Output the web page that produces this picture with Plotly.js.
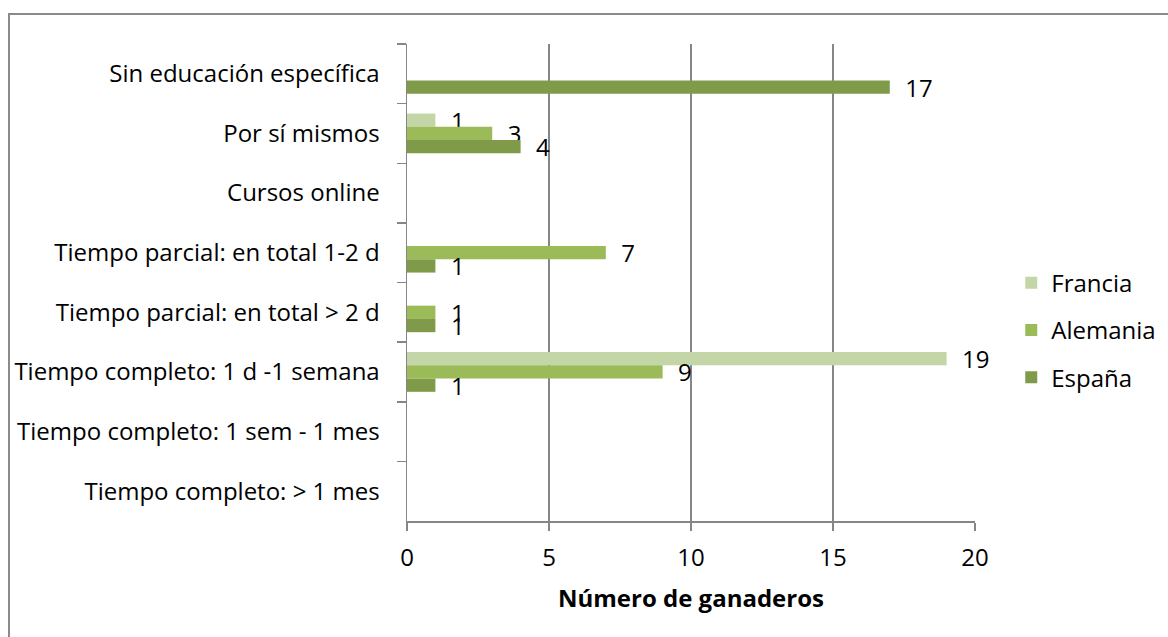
<!DOCTYPE html>
<html>
<head>
<meta charset="utf-8">
<script src="https://cdn.plot.ly/plotly-3.0.1.min.js"></script>
<style>
  html, body { margin: 0; padding: 0; background: #ffffff; }
  #chart { width: 1168px; height: 637px; }
</style>
</head>
<body>
<div id="chart"></div>
<script>
const categories = [
  "Sin educación específica",
  "Por sí mismos",
  "Cursos online",
  "Tiempo parcial: en total 1-2 d",
  "Tiempo parcial: en total > 2 d",
  "Tiempo completo: 1 d -1 semana",
  "Tiempo completo: 1 sem - 1 mes",
  "Tiempo completo: > 1 mes"
];
const francia  = [null, 1, null, null, null, 19, null, null];
const alemania = [null, 3, null, 7, 1, 9, null, null];
const espana   = [17, 4, null, 1, 1, 1, null, null];
const seriesNames = ["Francia", "Alemania", "España"];
const xTicks = [0, 5, 10, 15, 20];

const FONT = "'Open Sans', 'Noto Sans', sans-serif";
const FS = 24;
const colors = ["#C4D6A8", "#9BBB59", "#7F9B4A"];
const seriesValues = [francia, alemania, espana];

const traces = seriesValues.map((vals, i) => ({
  type: "bar",
  orientation: "h",
  name: seriesNames[i],
  legendgroup: "g" + i,
  y: categories,
  x: vals,
  marker: { color: colors[i], line: { width: 0 } },
  texttemplate: "  %{x}",
  textposition: "outside",
  constraintext: "none",
  cliponaxis: false,
  textfont: { family: FONT, size: FS, color: "#000000" },
  hoverinfo: "x+name"
}));

const layout = {
  width: 1168,
  height: 637,
  paper_bgcolor: "#ffffff",
  plot_bgcolor: "#ffffff",
  font: { family: FONT, size: FS, color: "#000000" },
  margin: { l: 407, r: 193, t: 44, b: 116, pad: 0, autoexpand: false },
  barmode: "group",
  bargap: 0.333,
  bargroupgap: 0,
  showlegend: true,
  legend: {
    x: 1.0638, xanchor: "left",
    y: 0.40, yanchor: "middle",
    traceorder: "grouped",
    tracegroupgap: 13,
    font: { family: FONT, size: FS, color: "#000000" },
    bgcolor: "rgba(0,0,0,0)"
  },
  xaxis: {
    range: [0, 20],
    tickvals: xTicks,
    ticktext: xTicks.map(String),
    showgrid: true,
    gridcolor: "#868686",
    gridwidth: 1.5,
    zeroline: false,
    showline: true,
    linecolor: "#868686",
    linewidth: 1.5,
    ticks: "outside",
    ticklen: 8,
    tickcolor: "#868686",
    tickwidth: 1.5,
    ticklabelstandoff: 7,
    tickfont: { family: FONT, size: FS, color: "#000000" },
    title: { text: "<b>Número de ganaderos</b>", font: { family: FONT, size: FS, color: "#000000" }, standoff: 18 },
    fixedrange: true
  },
  yaxis: {
    type: "category",
    categoryorder: "array",
    categoryarray: categories,
    autorange: "reversed",
    showgrid: false,
    zeroline: false,
    showline: true,
    linecolor: "#868686",
    linewidth: 1.5,
    ticks: "outside",
    tickson: "boundaries",
    ticklen: 9,
    tickcolor: "#868686",
    tickwidth: 1.5,
    ticklabelstandoff: 21,
    tickfont: { family: FONT, size: FS, color: "#000000" },
    fixedrange: true
  },
  shapes: [{
    type: "rect",
    xref: "paper", yref: "paper",
    x0: (9 - 407) / 568, x1: (1180 - 407) / 568,
    y0: (521 - 650) / 477, y1: (521 - 14) / 477,
    line: { color: "#8A8A8A", width: 2 },
    fillcolor: "rgba(0,0,0,0)",
    layer: "below"
  }]
};

Plotly.newPlot("chart", traces, layout, { displayModeBar: false, staticPlot: true });
</script>
</body>
</html>
